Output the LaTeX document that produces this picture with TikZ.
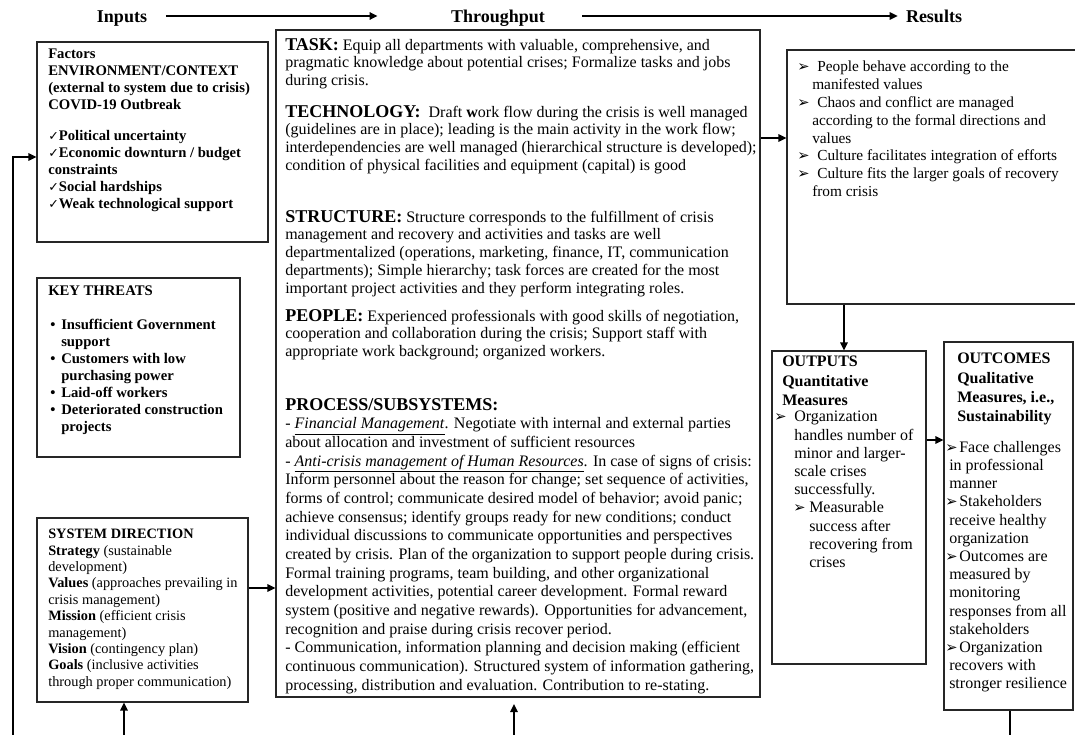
\documentclass[tikz,border=0pt]{standalone}
\usepackage{fontspec}
\setmainfont{Liberation Serif}
\newfontfamily\dv{DejaVu Sans}
\usetikzlibrary{arrows.meta,fit}
\newcommand{\arr}{{\dv\fontsize{11}{8}\selectfont ➢}}
\newcommand{\chk}{{\dv\fontsize{9.5}{8}\selectfont ✓}}
\newcommand{\blt}{\makebox[8.25pt][l]{•}}
\newcommand{\ind}{\hspace*{8.25pt}}
\newcommand{\hdg}[1]{{\fontsize{13.5}{14}\selectfont\bfseries #1}}
\begin{document}
\begin{tikzpicture}[x=0.75pt,y=-0.75pt,
  box/.style={draw=black!85, line width=0.8pt, inner sep=0pt},
  txt/.style={anchor=north west, inner sep=0pt, align=left},
  body/.style={txt, font=\fontsize{12}{13.35}\selectfont},
  conn/.style={line width=1.6pt, -{Triangle[length=6pt,width=5.5pt]}},
  plain/.style={line width=1.6pt},
  hd/.style={font=\bfseries\fontsize{13.5}{14}\selectfont, inner sep=0pt, anchor=base}
]
\useasboundingbox (0,0) rectangle (1075,735);
% header
\node[hd] (inputs) at (122,23) {Inputs};
\node[hd] (through) at (498,23) {Throughput};
\node[hd] (results) at (934,23) {Results};
\coordinate (hy) at (0,16);
\draw[conn] ([xshift=14pt]hy -| inputs.east) -- ([xshift=-55pt]hy -| through.west);
\draw[conn] ([xshift=28pt]hy -| through.east) -- ([xshift=-6pt]hy -| results.west);

% left boxes
\node[box, fit={(37,42) (268,242)}] (factors) {};
\node[txt, font=\bfseries\fontsize{11}{12.75}\selectfont] (factorstxt) at (48,49)
 {Factors\\ENVIRONMENT/CONTEXT\\(external to system due to crisis)\\COVID-19 Outbreak\\[10pt]%
  \chk Political uncertainty\\\chk Economic downturn / budget\\constraints\\\chk Social hardships\\\chk Weak technological support};

\node[box, fit={(37,278) (240,457)}] (threats) {};
\node[txt, font=\bfseries\fontsize{11}{12.75}\selectfont] (threatstitle) at (48,286) {KEY THREATS};
\node[txt, font=\bfseries\fontsize{11}{12.75}\selectfont] (threatslist) at (50,319)
 {\blt Insufficient Government\\\ind support\\\blt Customers with low\\\ind purchasing power\\\blt Laid-off workers\\\blt Deteriorated construction\\\ind projects};

\node[box, fit={(37,518) (248,702)}] (sd) {};
\node[txt, font=\fontsize{10.75}{12.3}\selectfont] (sdtxt) at (48,529)
 {\textbf{SYSTEM DIRECTION}\\\textbf{Strategy} (sustainable\\development)\\\textbf{Values} (approaches prevailing in\\crisis management)\\\textbf{Mission} (efficient crisis\\management)\\\textbf{Vision} (contingency plan)\\\textbf{Goals} (inclusive activities\\through proper communication)};

% center box
\node[box, fit={(276,30) (760,697)}] (center) {};
\node[body] (task) at (285,38)
 {\hdg{TASK:} Equip all departments with valuable, comprehensive, and\\pragmatic knowledge about potential crises; Formalize tasks and jobs\\during crisis.};
\node[body] (tech) at (285,105)
 {\hdg{TECHNOLOGY:}\ \ Draft \textbf{w}ork flow during the crisis is well managed\\(guidelines are in place); leading is the main activity in the work flow;\\interdependencies are well managed (hierarchical structure is developed);\\condition of physical facilities and equipment (capital) is good};
\node[body] (struct) at (285,210)
 {\hdg{STRUCTURE:} Structure corresponds to the fulfillment of crisis\\management and recovery and activities and tasks are well\\departmentalized (operations, marketing, finance, IT, communication\\departments); Simple hierarchy; task forces are created for the most\\important project activities and they perform integrating roles.};
\node[body] (people) at (285,309)
 {\hdg{PEOPLE:} Experienced professionals with good skills of negotiation,\\cooperation and collaboration during the crisis; Support staff with\\appropriate work background; organized workers.};
\node[txt, font=\fontsize{12}{14}\selectfont] (process) at (285,398)
 {\hdg{PROCESS/SUBSYSTEMS:}\\- \underline{\textit{Financial Management}}. Negotiate with internal and external parties\\about allocation and investment of sufficient resources\\- \underline{\textit{Anti-crisis management of Human Resources}}. In case of signs of crisis:\\Inform personnel about the reason for change; set sequence of activities,\\forms of control; communicate desired model of behavior; avoid panic;\\achieve consensus; identify groups ready for new conditions; conduct\\individual discussions to communicate opportunities and perspectives\\created by crisis. Plan of the organization to support people during crisis.\\Formal training programs, team building, and other organizational\\development activities, potential career development. Formal reward\\system (positive and negative rewards). Opportunities for advancement,\\recognition and praise during crisis recover period.\\- Communication, information planning and decision making (efficient\\continuous communication). Structured system of information gathering,\\processing, distribution and evaluation. Contribution to re-stating.};

% results box
\node[box, fit={(787,50) (1078,304)}] (res) {};
\node[txt, font=\fontsize{11.5}{13.35}\selectfont] (restxt) at (797,61)
 {\makebox[15pt][l]{\arr}People behave according to the\\\hspace*{11.25pt}manifested values\\\makebox[15pt][l]{\arr}Chaos and conflict are managed\\\hspace*{11.25pt}according to the formal directions and\\\hspace*{11.25pt}values\\\makebox[15pt][l]{\arr}Culture facilitates integration of efforts\\\makebox[15pt][l]{\arr}Culture fits the larger goals of recovery\\\hspace*{11.25pt}from crisis};

% outputs
\node[box, fit={(772,351) (926,664)}] (outputs) {};
\node[txt, font=\bfseries\fontsize{12}{14.5}\selectfont] (outhead) at (782,356)
 {OUTPUTS\\Quantitative\\Measures};
\node[txt, font=\fontsize{12}{13.65}\selectfont] (outlist) at (774,411)
 {\makebox[15pt][l]{\arr}Organization\\\hspace*{15pt}handles number of\\\hspace*{15pt}minor and larger-\\\hspace*{15pt}scale crises\\\hspace*{15pt}successfully.\\\hspace*{14.25pt}\makebox[12pt][l]{\arr}Measurable\\\hspace*{26.25pt}success after\\\hspace*{26.25pt}recovering from\\\hspace*{26.25pt}crises};

% outcomes
\node[box, fit={(944,342) (1073,710)}] (outcomes) {};
\node[txt, font=\bfseries\fontsize{12}{14.5}\selectfont] (ochead) at (957,353)
 {OUTCOMES\\Qualitative\\Measures, i.e.,\\Sustainability};
\node[txt, font=\fontsize{12}{13.65}\selectfont] (oclist) at (945,441)
 {\makebox[10.5pt][l]{\arr}Face challenges\\\hspace*{3pt}in professional\\\hspace*{3pt}manner\\\makebox[10.5pt][l]{\arr}Stakeholders\\\hspace*{3pt}receive healthy\\\hspace*{3pt}organization\\\makebox[10.5pt][l]{\arr}Outcomes are\\\hspace*{3pt}measured by\\\hspace*{3pt}monitoring\\\hspace*{3pt}responses from all\\\hspace*{3pt}stakeholders\\\makebox[10.5pt][l]{\arr}Organization\\\hspace*{3pt}recovers with\\\hspace*{3pt}stronger resilience};

% connectors
\coordinate (fbot) at (13,740);
\draw[conn, line width=1.9pt] (fbot) |- ([yshift=-11.25pt]factors.west);
\coordinate (sdout) at ([yshift=16.5pt]sd.east);
\draw[conn] (sdout) -- (sdout -| center.west);
\coordinate (sdin) at (124,740);
\draw[conn] (sdin) -- (sdin |- sd.south);
\coordinate (cin) at (514,740);
\coordinate (ctip) at (514,704);
\draw[conn] (cin) -- (ctip);
\coordinate (resin) at (762,138);
\draw[conn] (resin -| center.east) -- (resin -| res.west);
\coordinate (outx) at (844,0);
\draw[conn] (outx |- res.south) -- (outx |- outputs.north);
\coordinate (ocy) at (0,440);
\draw[conn] (ocy -| outputs.east) -- (ocy -| outcomes.west);
\coordinate (ocbot) at (1010,740);
\draw[plain] (ocbot |- outcomes.south) -- (ocbot);
\end{tikzpicture}
\end{document}
